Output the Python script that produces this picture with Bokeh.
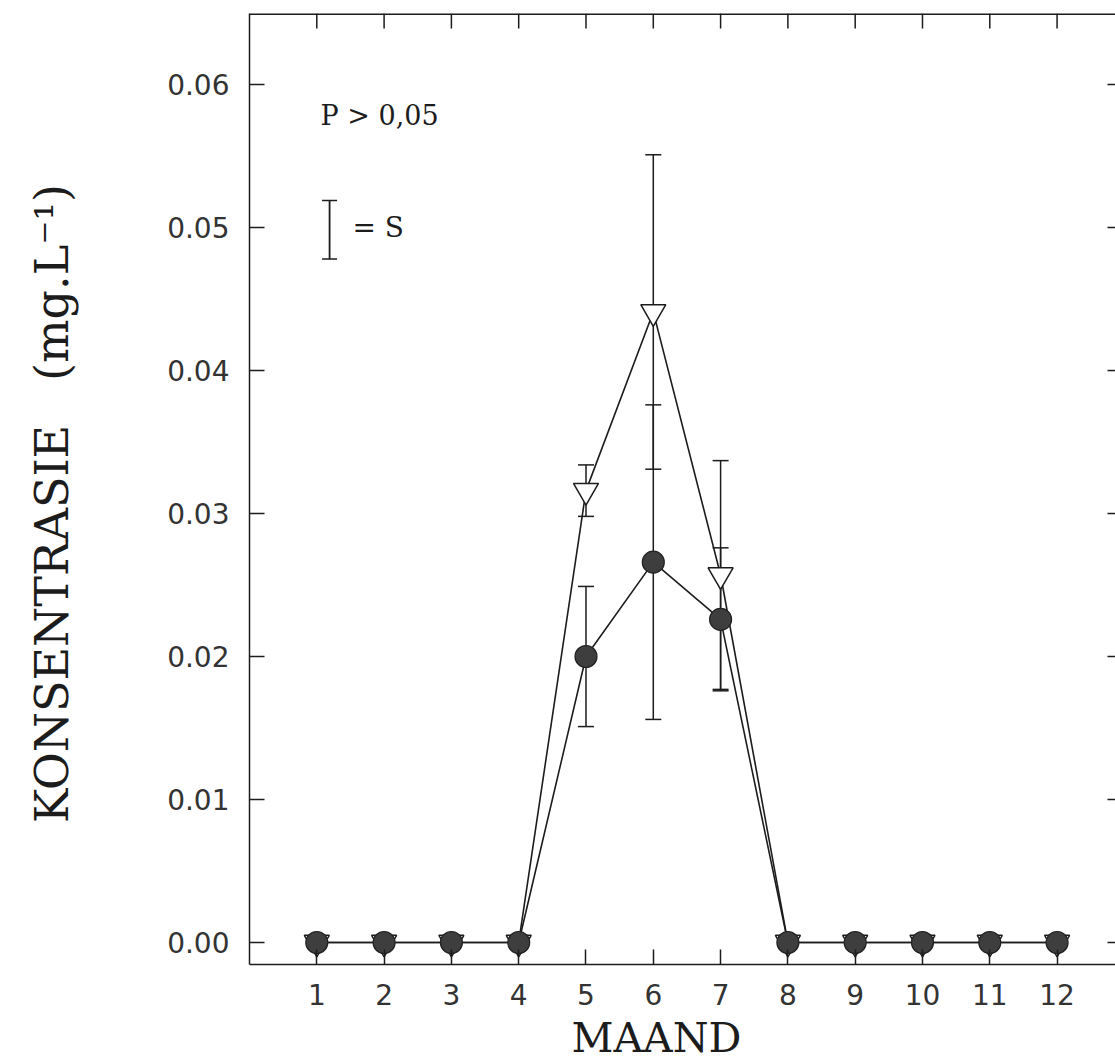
import numpy as np
from bokeh.plotting import figure
from bokeh.models import (ColumnDataSource, Whisker, TeeHead, FixedTicker,
                          NumeralTickFormatter, Range1d, Label)
from bokeh.embed import file_html
from bokeh.resources import INLINE

# ---- data ----
months = [1, 2, 3, 4, 5, 6, 7, 8, 9, 10, 11, 12]
open_mean = [0, 0, 0, 0, 0.0316, 0.0441, 0.0257, 0, 0, 0, 0, 0]
open_sd = [0, 0, 0, 0, 0.0018, 0.0110, 0.0080, 0, 0, 0, 0, 0]
filled_mean = [0, 0, 0, 0, 0.0200, 0.0266, 0.0226, 0, 0, 0, 0, 0]
filled_sd = [0, 0, 0, 0, 0.0049, 0.0110, 0.0050, 0, 0, 0, 0, 0]
x_ticks = months
y_ticks = [0.0, 0.01, 0.02, 0.03, 0.04, 0.05, 0.06]
x_title = "MAAND"
y_title = "KONSENTRASIE\u00a0\u00a0\u00a0(mg.L\u207b\u00b9)"
note_text = "P > 0,05"
key_text = "= S"

INK = "#1c1c1c"
SERIF = "DejaVu Serif"
SANS = "DejaVu Sans"

X0, X1 = 0.0, 12.868
Y0, Y1 = -0.00154, 0.06497
FW, FH = 866, 951

p = figure(frame_width=FW, frame_height=FH,
           x_range=Range1d(X0, X1), y_range=Range1d(Y0, Y1),
           output_backend="svg", toolbar_location=None,
           min_border_left=249, min_border_right=0, min_border_top=13, min_border_bottom=0)
p.outline_line_color = None
p.grid.visible = False
p.background_fill_color = "white"
p.border_fill_color = "white"

for ax in (p.xaxis[0], p.yaxis[0]):
    ax.major_tick_in = 15
    ax.major_tick_out = 0
    ax.minor_tick_line_color = None
    ax.major_tick_line_color = INK
    ax.major_tick_line_width = 1.5
    ax.axis_line_color = INK
    ax.axis_line_width = 1.5
    ax.major_label_text_font = SANS
    ax.major_label_text_font_size = "28px"
    ax.major_label_text_color = "#333333"
    ax.axis_label_text_font = SERIF
    ax.axis_label_text_font_style = "normal"
    ax.axis_label_text_color = INK

p.xaxis.ticker = FixedTicker(ticks=x_ticks)
p.yaxis.ticker = FixedTicker(ticks=y_ticks)
p.yaxis.formatter = NumeralTickFormatter(format="0.00")
p.xaxis.major_label_standoff = 19
p.yaxis.major_label_standoff = 20

p.xaxis.axis_label = x_title + "\u00a0" * 4
p.xaxis.axis_label_text_font_size = "41px"
p.xaxis.axis_label_standoff = 6
p.yaxis.axis_label = y_title + "\u00a0\u00a0"
p.yaxis.axis_label_text_font_size = "46px"
p.yaxis.axis_label_standoff = 85

# top edge of the frame and ticks on the top and right edges (from the same tick lists)
top_len = 15 * (Y1 - Y0) / FH
right_len = 8 * (X1 - X0) / FW
p.segment(x0=[X0], x1=[X1], y0=[Y1], y1=[Y1], line_color=INK, line_width=3)
p.segment(x0=x_ticks, x1=x_ticks, y0=[Y1] * len(x_ticks), y1=[Y1 - top_len] * len(x_ticks),
          line_color=INK, line_width=1.5)
p.segment(x0=[X1 - right_len] * len(y_ticks), x1=[X1] * len(y_ticks), y0=y_ticks, y1=y_ticks,
          line_color=INK, line_width=1.5)

# ---- error bars ----
def err_source(mean, sd):
    xs, up, lo = [], [], []
    for m, v, s in zip(months, mean, sd):
        if s > 0:
            xs.append(m); up.append(v + s); lo.append(v - s)
    return ColumnDataSource(dict(x=xs, upper=up, lower=lo))

for mean, sd in ((open_mean, open_sd), (filled_mean, filled_sd)):
    p.add_layout(Whisker(source=err_source(mean, sd), base="x", upper="upper", lower="lower",
                         upper_head=TeeHead(size=16, line_width=1.5, line_color=INK),
                         lower_head=TeeHead(size=16, line_width=1.5, line_color=INK),
                         line_width=1.5, line_color=INK, level="underlay"))

# ---- series ----
p.line(months, open_mean, line_width=1.6, line_color=INK)
p.line(months, filled_mean, line_width=1.6, line_color=INK)
p.scatter(months, open_mean, marker="inverted_triangle", size=25,
          fill_color="white", line_color=INK, line_width=1.5)
p.scatter(months, filled_mean, marker="circle", size=22,
          fill_color="#3e3e3e", line_color="#222222", line_width=1.2)

# ---- annotations inside the frame ----
p.add_layout(Label(x=1.055, y=0.05783, text=note_text, text_font=SERIF,
                   text_font_size="27px", text_color=INK, text_baseline="alphabetic"))
key_src = ColumnDataSource(dict(x=[1.19], upper=[0.0519], lower=[0.0478]))
p.add_layout(Whisker(source=key_src, base="x", upper="upper", lower="lower",
                     upper_head=TeeHead(size=15, line_width=1.5, line_color=INK),
                     lower_head=TeeHead(size=15, line_width=1.5, line_color=INK),
                     line_width=1.8, line_color=INK))
p.add_layout(Label(x=1.53, y=0.0500, text=key_text, text_font=SERIF,
                   text_font_size="28px", text_color=INK, text_baseline="alphabetic"))

open("out.html", "w").write(file_html(p, INLINE))
